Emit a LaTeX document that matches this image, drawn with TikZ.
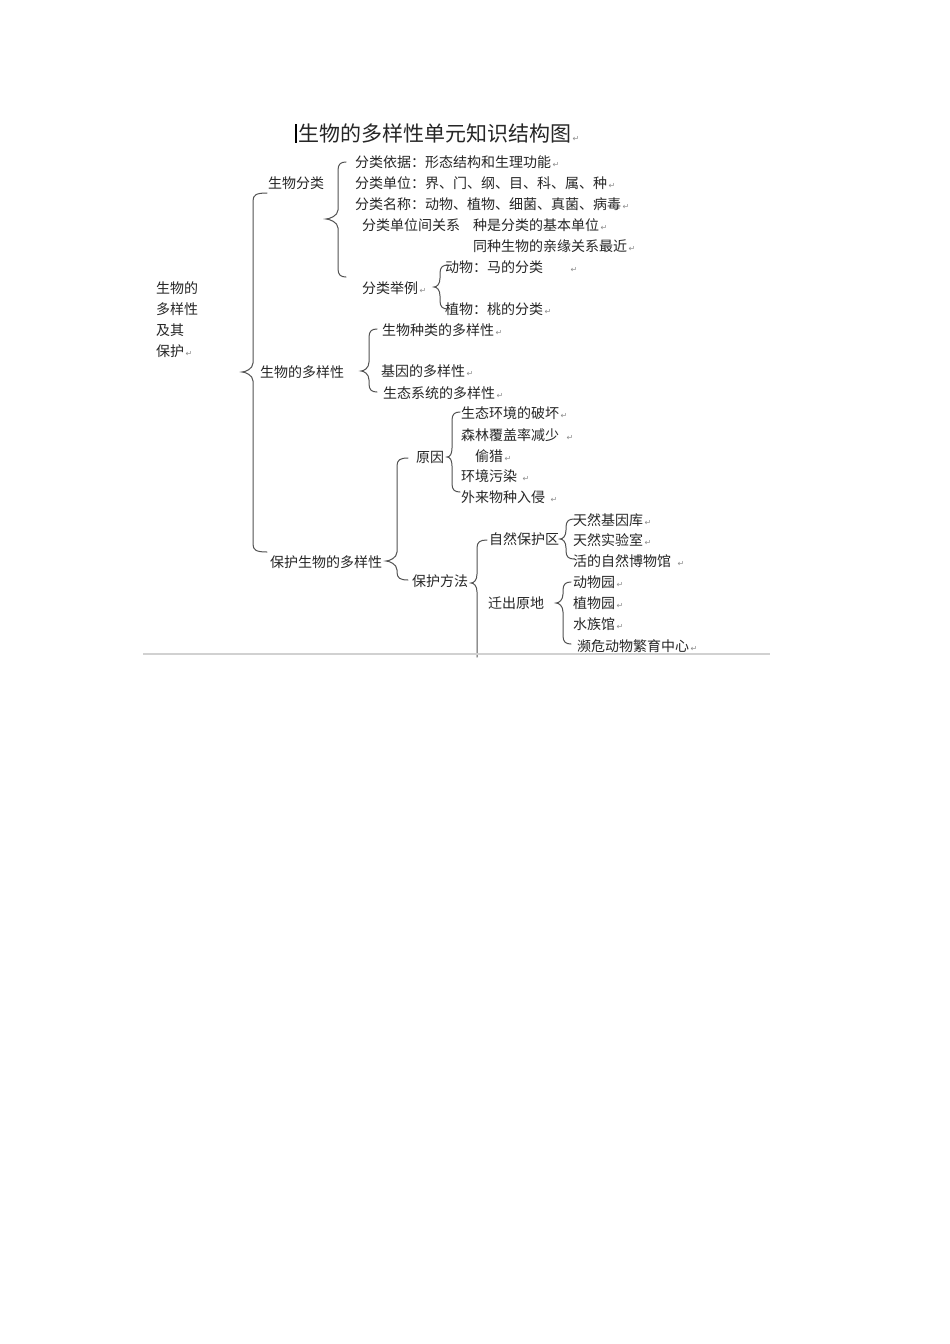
\documentclass[tikz,border=0pt]{standalone}
\usepackage{fontspec}
\newfontfamily\cjk{Noto Sans CJK SC}
\newfontfamily\dv{DejaVu Sans}
\newcommand{\ret}{{\dv\fontsize{8}{8}\selectfont\color{black!45}\,↵}}
\newcommand{\mybrace}[6][8]{%
  \draw[br] (#2+#1,#3) .. controls (#2+3,#3) and (#2,#3+2) .. (#2,#3+8)
    -- (#2,#4-9) .. controls (#2,#4-3) and (#6+3,#4) .. (#6,#4)
    .. controls (#6+3,#4) and (#2,#4+3) .. (#2,#4+9)
    -- (#2,#5-8) .. controls (#2,#5-2) and (#2+3,#5) .. (#2+#1,#5);}
\begin{document}
\begin{tikzpicture}[x=1pt,y=-1pt,
  txt/.style={anchor=west,inner sep=0pt,text=black!85,font=\cjk\fontsize{14}{16}\selectfont},
  br/.style={draw=black!68,line width=1pt,line cap=round}]
\useasboundingbox[fill=white] (0,0) rectangle (950,1344);
% title
\draw[line width=1.8pt,black] (296,124) -- (296,143);
\node[txt,font=\cjk\fontsize{21}{22}\selectfont] (title) at (298,133) {生物的多样性单元知识结构图\ret};
% root
\node[txt,align=left,font=\cjk\fontsize{14}{21}\selectfont] (root) at (156,319.5) {生物的\\多样性\\及其\\保护\ret};
% level 1
\node[txt] (fl) at (268,183) {生物分类};
\node[txt] (dy) at (260,372) {生物的多样性};
\node[txt] (bh) at (270,562) {保护生物的多样性};
% 生物分类
\node[txt] (yj) at (355,162) {分类依据：形态结构和生理功能\ret};
\node[txt] (dw) at (355,183) {分类单位：界、门、纲、目、科、属、种\ret};
\node[txt] (mc) at (355,204) {分类名称：动物、植物、细菌、真菌、病毒\ret};
\node[txt] (gx) at (362,225) {分类单位间关系};
\node[txt] (gx1) at (473,225) {种是分类的基本单位\ret};
\node[txt] (gx2) at (473,246) {同种生物的亲缘关系最近\ret};
\node[txt] (jl) at (362,288) {分类举例\ret};
\node[txt] (dw1) at (445,267) {动物：马的分类\hspace{26pt}\ret};
\node[txt] (zw1) at (445,309) {植物：桃的分类\ret};
% 生物的多样性
\node[txt] (zl) at (382,330) {生物种类的多样性\ret};
\node[txt] (jy) at (381,371) {基因的多样性\ret};
\node[txt] (st) at (383,393) {生态系统的多样性\ret};
% 原因
\node[txt] (yy) at (416,457) {原因};
\node[txt] (y1) at (461,413) {生态环境的破坏\ret};
\node[txt] (y2) at (461,435) {森林覆盖率减少\hspace{6pt}\ret};
\node[txt] (y3) at (475,456) {偷猎\ret};
\node[txt] (y4) at (461,476) {环境污染\hspace{4pt}\ret};
\node[txt] (y5) at (461,497) {外来物种入侵\hspace{4pt}\ret};
% 保护方法
\node[txt] (ff) at (412,581) {保护方法};
\node[txt] (zr) at (489,539) {自然保护区};
\node[txt] (z1) at (573,520) {天然基因库\ret};
\node[txt] (z2) at (573,540) {天然实验室\ret};
\node[txt] (z3) at (573,561) {活的自然博物馆\hspace{5pt}\ret};
\node[txt] (qc) at (488,603) {迁出原地};
\node[txt] (q1) at (573,582) {动物园\ret};
\node[txt] (q2) at (573,603) {植物园\ret};
\node[txt] (q3) at (573,624) {水族馆\ret};
\node[txt] (q4) at (577,646) {濒危动物繁育中心\ret};
% braces
\mybrace{338}{162}{219}{277}{326}
\mybrace{440}{265}{287}{309}{434}
\mybrace[14]{253}{193}{372}{552}{242}
\mybrace{369}{329}{371}{392}{361}
\mybrace{452}{412}{457}{492}{447}
\mybrace[11]{397}{458}{561}{580}{386}
\draw[br] (487,540) .. controls (480,540) and (477,542) .. (477,548)
  -- (477,574) .. controls (477,580) and (474,583) .. (471,583)
  .. controls (474,583) and (477,586) .. (477,592) -- (477,657);
\mybrace{566}{519}{539}{559}{560}
\mybrace{563}{582}{603}{644}{556}
% bottom rule
\draw[black!18,line width=1.5pt] (143,654) -- (770,654);
\end{tikzpicture}
\end{document}
